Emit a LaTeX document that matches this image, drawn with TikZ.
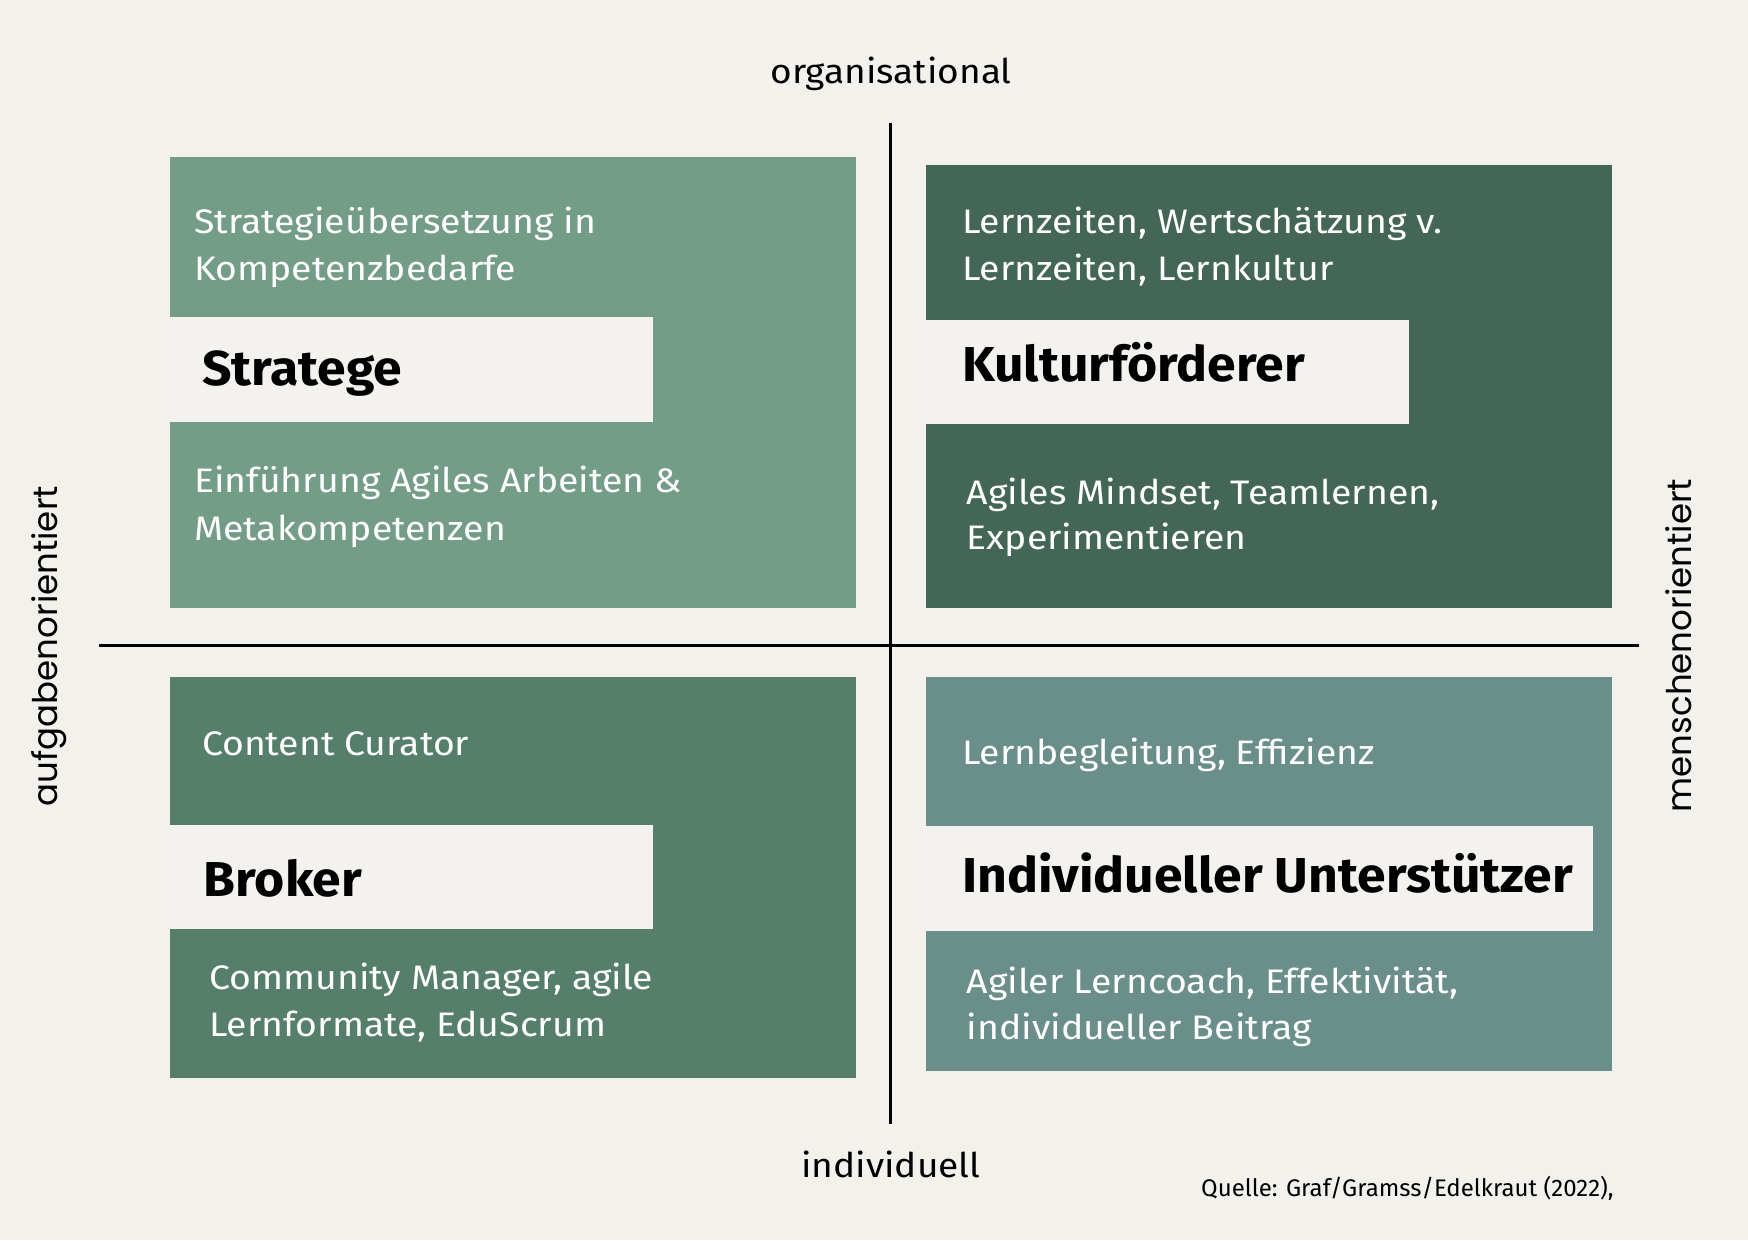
\documentclass[tikz,border=0pt]{standalone}
\usepackage{fontspec}
\setmainfont{Fira Sans}
\newfontfamily\bodyfont{Fira Sans}[FakeStretch=1.1]
\newfontfamily\titlefont{Fira Sans}[FakeStretch=1.055]
\newfontfamily\labelfont{Fira Sans}[FakeStretch=1.09]
\newfontfamily\axisfont{Poppins}
\definecolor{bgc}{HTML}{F2F1EC}
\definecolor{bandc}{HTML}{F3F2EE}
\definecolor{tlc}{HTML}{749D88}
\definecolor{trc}{HTML}{436656}
\definecolor{blc}{HTML}{557F6A}
\definecolor{brc}{HTML}{6A8F8B}
\begin{document}
\begin{tikzpicture}[x=1pt,y=-1pt,
  quad/.style={anchor=north west, inner sep=0pt, outer sep=0pt, draw=none},
  band/.style={anchor=north west, inner sep=0pt, outer sep=0pt, fill=bandc, draw=none},
  body/.style={anchor=base west, inner sep=0pt, text=white, font=\bodyfont\fontsize{34}{40}\selectfont},
  title/.style={anchor=base west, inner sep=0pt, text=black, font=\titlefont\fontsize{49}{56}\selectfont\bfseries},
  axis/.style={inner sep=0pt, text=black, font=\labelfont\fontsize{34}{40}\selectfont},
  side/.style={inner sep=0pt, text=black, font=\axisfont\fontsize{34}{40}\selectfont, rotate=90},
  axline/.style={line width=3pt, black}]
\useasboundingbox (0,0) rectangle (1748,1240);
\fill[bgc] (0,0) rectangle (1748,1240);
% quadrants
\node[quad, fill=tlc, minimum width=686pt, minimum height=451pt] (tl) at (169.5,157) {};
\node[quad, fill=trc, minimum width=686pt, minimum height=443pt] (tr) at (925.5,164.5) {};
\node[quad, fill=blc, minimum width=686pt, minimum height=401pt] (bl) at (169.5,676.5) {};
\node[quad, fill=brc, minimum width=686pt, minimum height=394pt] (br) at (925.5,676.5) {};
% bands
\node[band, minimum width=483.5pt, minimum height=105pt] (tlb) at (169.5,317) {};
\node[band, minimum width=483.5pt, minimum height=104pt] (trb) at (925.5,320) {};
\node[band, minimum width=483.5pt, minimum height=104.5pt] (blb) at (169.5,824.5) {};
\node[band, minimum width=667pt, minimum height=105pt] (brb) at (925.5,826) {};
% axes
\coordinate (vtop) at (890.7,122.6);
\coordinate (vbot) at (890.7,1124);
\coordinate (hl) at (99,645);
\coordinate (hr) at (1639,645);
\draw[axline] (vtop) -- (vbot);
\draw[axline] (hl) -- (hr);
% axis labels
\node[axis, anchor=base] (org) at (891,83) {organisational};
\node[axis, anchor=base] (ind) at (891,1177.5) {individuell};
\node[side, anchor=base] (auf) at (57,646) {aufgabenorientiert};
\node[side, anchor=base] (men) at (1691,645.5) {menschenorientiert};
\node[anchor=base west, inner sep=0pt, font=\fontsize{24}{29}\selectfont] (src) at (1201,1196) {Quelle: Graf/Gramss/Edelkraut (2022),};
% TL texts
\node[body] (tl1) at (194,233) {Strategieübersetzung in};
\node[body] (tl2) at (194,280) {Kompetenzbedarfe};
\node[title] (tlt) at (201.8,385.5) {Stratege};
\node[body] (tl3) at (194,492) {Einführung Agiles Arbeiten \&};
\node[body] (tl4) at (194,540) {Metakompetenzen};
% TR texts
\node[body] (tr1) at (962,233) {Lernzeiten, Wertschätzung v.};
\node[body] (tr2) at (962,280) {Lernzeiten, Lernkultur};
\node[title] (trt) at (962,381.6) {Kulturförderer};
\node[body] (tr3) at (966.5,504) {Agiles Mindset, Teamlernen,};
\node[body] (tr4) at (966.5,549.6) {Experimentieren};
% BL texts
\node[body] (bl1) at (201.8,755.6) {Content Curator};
\node[title] (blt) at (203.5,896.8) {Broker};
\node[body] (bl2) at (209,989) {Community Manager, agile};
\node[body] (bl3) at (209,1036.4) {Lernformate, EduScrum};
% BR texts
\node[body] (br1) at (962,764) {Lernbegleitung, Effizienz};
\node[title] (brt) at (962,892) {Individueller Unterstützer};
\node[body] (br2) at (966.5,993.7) {Agiler Lerncoach, Effektivität,};
\node[body] (br3) at (966.5,1039) {individueller Beitrag};
\end{tikzpicture}
\end{document}
